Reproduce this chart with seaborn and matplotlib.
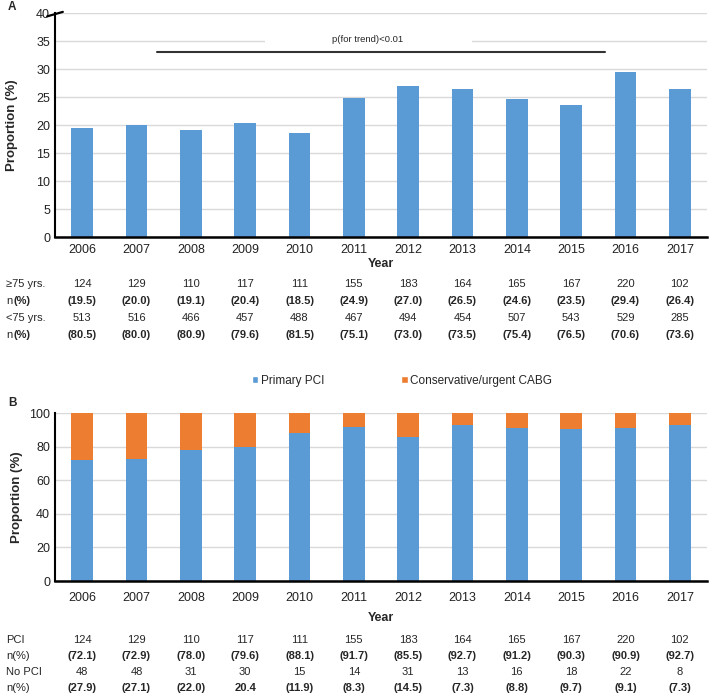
import matplotlib
matplotlib.use('Agg')
import matplotlib.pyplot as plt
import matplotlib.transforms as mtransforms
from matplotlib.patches import Patch, Rectangle
import pandas as pd
import seaborn as sns

# data
years = ['2006', '2007', '2008', '2009', '2010', '2011', '2012', '2013', '2014', '2015', '2016', '2017']
ge75_n = [124, 129, 110, 117, 111, 155, 183, 164, 165, 167, 220, 102]
ge75_pct = [19.5, 20.0, 19.1, 20.4, 18.5, 24.9, 27.0, 26.5, 24.6, 23.5, 29.4, 26.4]
lt75_n = [513, 516, 466, 457, 488, 467, 494, 454, 507, 543, 529, 285]
lt75_pct = [80.5, 80.0, 80.9, 79.6, 81.5, 75.1, 73.0, 73.5, 75.4, 76.5, 70.6, 73.6]
pci_n = [124, 129, 110, 117, 111, 155, 183, 164, 165, 167, 220, 102]
pci_pct = [72.1, 72.9, 78.0, 79.6, 88.1, 91.7, 85.5, 92.7, 91.2, 90.3, 90.9, 92.7]
nopci_n = [48, 48, 31, 30, 15, 14, 31, 13, 16, 18, 22, 8]
nopci_pct_labels = ['(27.9)', '(27.1)', '(22.0)', '20.4', '(11.9)', '(8.3)',
                    '(14.5)', '(7.3)', '(8.8)', '(9.7)', '(9.1)', '(7.3)']

BLUE = '#5B9BD5'
ORANGE = '#ED7D31'
W, H = 709, 694

sns.set_style('white')
plt.rcParams['font.family'] = ['Liberation Sans', 'DejaVu Sans']


def fx(px):
    return px / W


def fy(py):
    return 1 - py / H


fig = plt.figure(figsize=(W / 100, H / 100), dpi=100)
axA = fig.add_axes([fx(55), fy(237), fx(652), (237 - 13) / H])
axB = fig.add_axes([fx(55), fy(581), fx(652), (581 - 413) / H])

dfA = pd.DataFrame({'year': years, 'pct': ge75_pct})
dfB = pd.DataFrame({'year': years, 'pci': pci_pct, 'total': [100] * len(years)})

# ---- panel A
sns.barplot(data=dfA, x='year', y='pct', color=BLUE, saturation=1, width=0.4,
            linewidth=0, ax=axA)
axA.set_ylim(0, 40)
axA.set_yticks(range(0, 41, 5))

# ---- panel B (stacked)
sns.barplot(data=dfB, x='year', y='total', color=ORANGE, saturation=1, width=0.4,
            linewidth=0, ax=axB)
sns.barplot(data=dfB, x='year', y='pci', color=BLUE, saturation=1, width=0.4,
            linewidth=0, ax=axB)
axB.set_ylim(0, 100)
axB.set_yticks(range(0, 101, 20))

for ax in (axA, axB):
    ax.set_xlim(-0.5, 11.5)
    ax.set_xlabel('')
    ax.set_ylabel('')
    ax.set_axisbelow(True)
    ax.yaxis.grid(True, color='#d9d9d9', lw=1)
    sns.despine(ax=ax)
    ax.spines['left'].set_linewidth(1.5)
    ax.spines['bottom'].set_linewidth(1.8)
    ax.spines['left'].set_color('black')
    ax.spines['bottom'].set_color('black')
    ax.tick_params(axis='both', length=0, labelsize=9, colors='#222222')
axA.tick_params(axis='x', pad=5)
axB.tick_params(axis='x', pad=8)

# axis break mark on A
axA.plot([-0.012, 0.012], [0.985, 1.005], transform=axA.transAxes, color='black',
         lw=1.6, clip_on=False)

# trend annotation
axA.add_patch(Rectangle((3.37, 34.4), 3.8, 1.2, facecolor='white', edgecolor='none', zorder=2))
axA.plot([1.38, 9.63], [33, 33], color='#333333', lw=1.5, zorder=3)
axA.text(5.26, 35.2, 'p(for trend)<0.01', ha='center', va='center', fontsize=6.8, zorder=4)

# panel letters and axis titles
fig.text(fx(8), fy(7), 'A', fontsize=8.5, fontweight='bold', va='center')
fig.text(fx(8), fy(403), 'B', fontsize=8.5, fontweight='bold', va='center')
fig.text(fx(12), fy(125), 'Proportion (%)', rotation=90, fontsize=9.5, fontweight='bold',
         ha='center', va='center')
fig.text(fx(17), fy(497), 'Proportion (%)', rotation=90, fontsize=9.5, fontweight='bold',
         ha='center', va='center')
fig.text(fx(381), fy(264), 'Year', fontsize=9, fontweight='bold', ha='center', va='center')
fig.text(fx(381), fy(618), 'Year', fontsize=9, fontweight='bold', ha='center', va='center')

# legend for B
handles = [Patch(facecolor=BLUE, label='Primary PCI'),
           Patch(facecolor=ORANGE, label='Conservative/urgent CABG')]
fig.legend(handles=handles, loc='center', bbox_to_anchor=(fx(402), fy(381)), ncol=2,
           frameon=False, fontsize=8.5, handlelength=0.55, handleheight=0.55,
           handletextpad=0.25, columnspacing=6.5)


# tables under the panels
def table_row(ax, py, label, values, bold=False, pct_label=False):
    trans = mtransforms.blended_transform_factory(ax.transData, fig.transFigure)
    if pct_label:
        fig.text(fx(6), fy(py), label[0], fontsize=8, va='center')
        fig.text(fx(label[2]), fy(py), label[1], fontsize=8, va='center',
                 fontweight='bold')
    else:
        fig.text(fx(6), fy(py), label, fontsize=8, va='center')
    for i, v in enumerate(values):
        ax.text(i, fy(py), v, transform=trans, ha='center', va='center', fontsize=8,
                fontweight='bold' if bold else 'normal')


table_row(axA, 284, '\u226575 yrs.', [str(v) for v in ge75_n])
table_row(axA, 301, ('n', '(%)', 14), ['(%.1f)' % v for v in ge75_pct], bold=True, pct_label=True)
table_row(axA, 318, '<75 yrs.', [str(v) for v in lt75_n])
table_row(axA, 335, ('n', '(%)', 14), ['(%.1f)' % v for v in lt75_pct], bold=True, pct_label=True)

table_row(axB, 640, 'PCI', [str(v) for v in pci_n])
table_row(axB, 656, 'n(%)', ['(%.1f)' % v for v in pci_pct], bold=True)
table_row(axB, 672, 'No PCI', [str(v) for v in nopci_n])
table_row(axB, 688, 'n(%)', nopci_pct_labels, bold=True)

fig.savefig('out.png', dpi=100, facecolor='white')
